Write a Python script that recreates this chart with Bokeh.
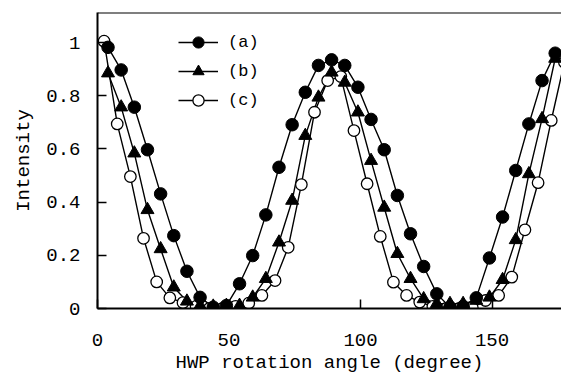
from bokeh.plotting import figure
from bokeh.models import Range1d, FixedTicker, Span, Legend, LegendItem
from bokeh.embed import file_html
from bokeh.resources import INLINE

# ---- data ----
x_ab = [4, 9, 14, 19, 24, 29, 34, 39, 44, 49, 54, 59, 64, 69, 74, 79, 84, 89, 94, 99,
        104, 109, 114, 119, 124, 129, 134, 139, 144, 149, 154, 159, 164, 169, 174]
x_c = [2.5, 7.5, 12.5, 17.5, 22.5, 27.5, 32.5, 37.5, 42.5, 47.5, 52.5, 57.5, 62.5, 67.5,
       72.5, 77.5, 82.5, 87.5, 92.5, 97.5, 102.5, 107.5, 112.5, 117.5, 122.5, 127.5,
       132.5, 137.5, 142.5, 147.5, 152.5, 157.5, 162.5, 167.5, 172.5, 177.5]
y_a = [0.982, 0.897, 0.757, 0.597, 0.431, 0.274, 0.140, 0.042, 0.005, 0.011, 0.093, 0.199,
       0.352, 0.531, 0.691, 0.813, 0.914, 0.935, 0.914, 0.832, 0.711, 0.597, 0.425, 0.281,
       0.158, 0.055, 0.005, 0.008, 0.040, 0.190, 0.344, 0.519, 0.694, 0.857, 0.960]
y_b = [0.885, 0.757, 0.584, 0.371, 0.224, 0.080, 0.027, 0.011, 0.008, 0.011, 0.011, 0.042,
       0.112, 0.249, 0.406, 0.650, 0.794, 0.888, 0.850, 0.738, 0.556, 0.380, 0.206, 0.112,
       0.036, 0.018, 0.018, 0.018, 0.030, 0.042, 0.108, 0.258, 0.506, 0.713, 0.940]
y_c = [1.005, 0.694, 0.496, 0.264, 0.100, 0.040, 0.022, 0.008, 0.000, 0.000, 0.008, 0.020,
       0.049, 0.105, 0.230, 0.466, 0.738, 0.857, 0.872, 0.669, 0.469, 0.271, 0.099, 0.049,
       0.024, 0.008, 0.000, 0.000, 0.003, 0.030, 0.049, 0.118, 0.296, 0.473, 0.707, 0.926]
labels = ["(a)", "(b)", "(c)"]
x_ticks = [0, 50, 100, 150]
y_ticks = [0, 0.2, 0.4, 0.6, 0.8, 1.0]
y_tick_labels = ["0", "0.2", "0.4", "0.6", "0.8", "1"]

FONT = "Liberation Mono"
X_END = 176.4
Y_END = 1.113

p = figure(width=561, height=377, output_backend="svg", toolbar_location=None,
           x_range=Range1d(0, X_END), y_range=Range1d(0, Y_END),
           min_border_left=97, min_border_right=0, min_border_top=12, min_border_bottom=69)
p.outline_line_color = None
p.grid.visible = False
p.background_fill_color = "white"
p.border_fill_color = "white"

# axes
p.xaxis.ticker = FixedTicker(ticks=x_ticks)
p.yaxis.ticker = FixedTicker(ticks=y_ticks)
p.yaxis.major_label_overrides = {t: l for t, l in zip(y_ticks, y_tick_labels)}
p.xaxis.major_label_overrides = {t: str(t) for t in x_ticks}
for ax in (p.xaxis[0], p.yaxis[0]):
    ax.axis_line_width = 2
    ax.axis_line_color = "black"
    ax.major_tick_in = 9
    ax.major_tick_out = 0
    ax.major_tick_line_width = 1.5
    ax.minor_tick_line_color = None
    ax.major_label_text_font = FONT
    ax.major_label_text_font_size = "19px"
    ax.major_label_text_color = "black"
    ax.axis_label_text_font = FONT
    ax.axis_label_text_font_size = "19px"
    ax.axis_label_text_font_style = "normal"
    ax.axis_label_text_color = "black"
p.xaxis.axis_label = "HWP rotation angle (degree)"
p.yaxis.axis_label = "Intensity"
p.xaxis.major_label_standoff = 25
p.xaxis.axis_label_standoff = 3
p.yaxis.major_label_standoff = 17
p.yaxis.axis_label_standoff = 8

# top border line
p.add_layout(Span(location=Y_END, dimension="width", line_color="black", line_width=2))

# series
la = p.line(x_ab, y_a, line_color="black", line_width=1.4)
lb = p.line(x_ab, y_b, line_color="black", line_width=1.4)
lc = p.line(x_c, y_c, line_color="black", line_width=1.4)
mc = p.scatter(x_c, y_c, marker="circle", size=11.5, fill_color="white",
               line_color="black", line_width=1.3)
mb = p.scatter(x_ab, y_b, marker="triangle", size=13, fill_color="black",
               line_color="black")
ma = p.scatter(x_ab, y_a, marker="circle", size=12.5, fill_color="black",
               line_color="black")

legend = Legend(items=[LegendItem(label=labels[0], renderers=[la, ma]),
                       LegendItem(label=labels[1], renderers=[lb, mb]),
                       LegendItem(label=labels[2], renderers=[lc, mc])],
                location=(81, 194), glyph_width=40, glyph_height=28, label_height=28,
                spacing=1, padding=0, margin=0, label_standoff=10,
                border_line_color=None, background_fill_alpha=0,
                label_text_font=FONT, label_text_font_size="17px",
                label_text_color="black")
p.add_layout(legend, "center")

open("out.html", "w").write(file_html(p, INLINE))
